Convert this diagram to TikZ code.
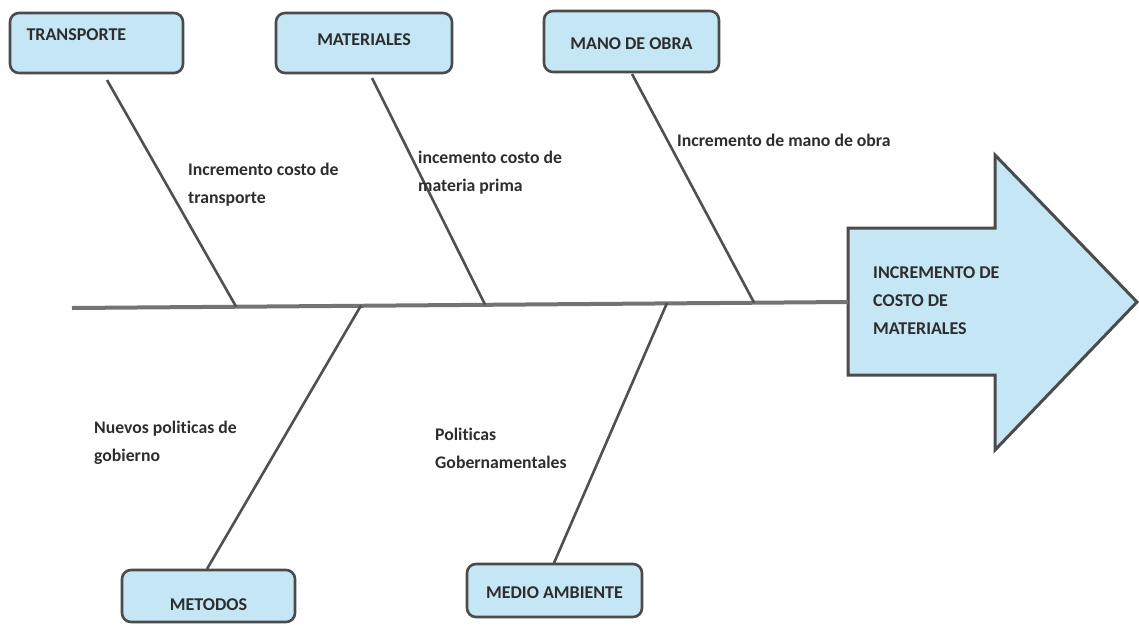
\documentclass[tikz,border=0pt]{standalone}
\usepackage{fontspec}
\setmainfont{Carlito}[Ligatures=NoCommon]
\definecolor{boxfill}{RGB}{196,230,245}
\definecolor{boxline}{RGB}{75,75,75}
\definecolor{boneline}{RGB}{80,80,80}
\definecolor{spinecol}{RGB}{115,115,115}
\definecolor{txt}{RGB}{45,45,45}
\begin{document}
\begin{tikzpicture}[x=1pt,y=-1pt,
  cat/.style={draw=boxline,line width=2.6pt,fill=boxfill,rounded corners=9pt,
    inner sep=0pt,text=txt,font=\fontsize{18}{20}\selectfont\bfseries},
  bone/.style={draw=boneline,line width=2.6pt},
  spine/.style={draw=spinecol,line width=4pt},
  lbl/.style={anchor=north west,align=left,inner sep=0pt,text=txt,
    font=\fontsize{17.7}{27.5}\selectfont\bfseries}]
\useasboundingbox (0,0) rectangle (1139,624);
% effect arrow
\draw[draw=boxline,line width=3pt,fill=boxfill,line join=miter]
  (848,228) -- (995,228) -- (995,155) -- (1137,302) -- (995,450) -- (995,375) -- (848,375) -- cycle;
\node[anchor=north west,align=left,inner sep=0pt,text=txt,
  font=\fontsize{18}{28}\selectfont\bfseries] (effect) at (873,266)
  {INCREMENTO DE\\COSTO DE\\MATERIALES};
\coordinate (head) at (848,302);
% spine
\coordinate (tail) at (72,308);
\draw[spine] (tail) -- (head);
% spine points
\coordinate (s1) at (236,306.5);
\coordinate (s2) at (485,304.5);
\coordinate (s3) at (754,302.5);
\coordinate (s4) at (361,305.5);
\coordinate (s5) at (667,303);
% category boxes
\node[cat,minimum width=173pt,minimum height=60pt,text width=140pt,align=left,
  text height=0pt,text depth=4.4pt] (transporte) at (96.5,43) {TRANSPORTE};
\node[cat,minimum width=176pt,minimum height=60pt,
  text height=4.6pt,text depth=0pt] (materiales) at (364,43) {MATERIALES};
\node[cat,minimum width=175pt,minimum height=61pt,
  text height=15.6pt,text depth=0pt] (mano) at (631.5,41.5) {MANO DE OBRA};
\node[cat,minimum width=173pt,minimum height=52pt,
  text height=29.6pt,text depth=0pt] (metodos) at (208.5,596) {METODOS};
\node[cat,minimum width=175pt,minimum height=53pt,
  text height=15.6pt,text depth=0pt] (medio) at (554.5,590.5) {MEDIO AMBIENTE};
% bone ends
\coordinate (t1) at (107,80);
\coordinate (t2) at (372,78);
\coordinate (t3) at (632,74);
\coordinate (b1) at (207,569);
\coordinate (b2) at (554,563);
\draw[bone] (t1) -- (s1);
\draw[bone] (t2) -- (s2);
\draw[bone] (t3) -- (s3);
\draw[bone] (s4) -- (b1);
\draw[bone] (s5) -- (b2);
% labels
\node[lbl] (l1) at (188,163) {Incremento costo de\\transporte};
\node[lbl] (l2) at (418,151) {incemento costo de\\materia prima};
\node[lbl] (l3) at (677,134) {Incremento de mano de obra};
\node[lbl] (l4) at (94,421) {Nuevos politicas de\\gobierno};
\node[lbl] (l5) at (435,428) {Politicas\\Gobernamentales};
\end{tikzpicture}
\end{document}
